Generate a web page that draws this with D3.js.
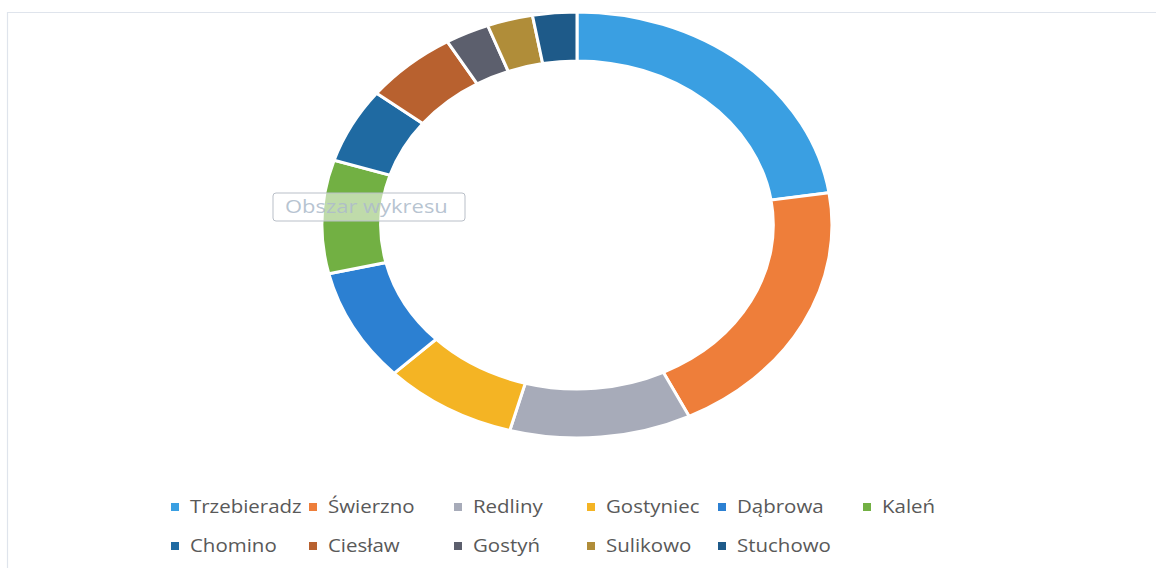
<!DOCTYPE html>
<html>
<head>
<meta charset="utf-8">
<script src="https://cdn.jsdelivr.net/npm/d3@7"></script>
<style>
body{margin:0;background:#fff;}
svg{display:block;}
</style>
</head>
<body>
<div id="chart"></div>
<script>
// villages and their share of the ring
var villages = ["Trzebieradz","Świerzno","Redliny","Gostyniec","Dąbrowa","Kaleń",
                "Chomino","Ciesław","Gostyń","Sulikowo","Stuchowo"]
var shares   = [22.6, 20.2, 11.5, 8.5, 8.6, 8.6, 5.7, 5.9, 2.8, 2.9, 2.8]
var colours  = ["#3a9fe2","#ee7e3a","#a7abb9","#f4b424","#2c80d2","#72b043",
                "#1f6aa2","#b8612f","#5c5f6d","#b08d39","#1e5a89"]

var W = 1156, H = 568
var cx = 577, cy = 225
var rOut = 213, rIn = 164
var stretch = 1.197   // the picture is wider than it is tall

var svg = d3.select('#chart').append('svg')
    .attr('width', W)
    .attr('height', H)

// faint chart area frame
svg.append('path')
    .attr('d', 'M7.5,' + H + 'V12.5H' + W)
    .attr('fill', 'none')
    .attr('stroke', '#dfe4ec')
    .attr('stroke-width', 1.2)

var data = villages.map(function(v, i){
    return {name: v, value: shares[i], colour: colours[i]}
})

var pie = d3.pie()
    .sort(null)
    .value(function(d){return d.value})

var arc = d3.arc()
    .innerRadius(rIn)
    .outerRadius(rOut)

var ring = svg.append('g')
    .attr('transform', 'translate(' + cx + ',' + cy + ') scale(' + stretch + ',1)')

ring.selectAll('path')
    .data(pie(data))
    .enter().append('path')
    .attr('d', arc)
    .attr('fill', function(d){return d.data.colour})
    .attr('stroke', '#fff')
    .attr('stroke-width', 3)
    .style('vector-effect', 'non-scaling-stroke')

// legend, two rows of Excel-ish columns
var colX = [175, 313, 458, 591, 722, 867]
var rowY = [507, 546]
var perRow = 6
var textStretch = 1.17

var leg = svg.append('g').attr('class', 'legend')
data.forEach(function(d, i){
    var row = Math.floor(i / perRow), col = i % perRow
    var g = leg.append('g')
        .attr('transform', 'translate(' + colX[col] + ',' + rowY[row] + ')')
    g.append('rect')
        .attr('x', -4).attr('y', -4)
        .attr('width', 8).attr('height', 8)
        .attr('fill', d.colour)
    g.append('text')
        .attr('x', 15 / textStretch)
        .attr('y', 6)
        .attr('font-family', 'Open Sans, sans-serif')
        .attr('font-size', 17.5)
        .attr('fill', '#595959')
        .attr('transform', 'scale(' + textStretch + ',1)')
        .text(d.name)
})

// the hover tip that was caught in the screenshot
var tip = svg.append('g').attr('transform', 'translate(273,193)')
tip.append('rect')
    .attr('width', 192).attr('height', 28)
    .attr('rx', 3)
    .attr('fill', '#ffffff')
    .attr('fill-opacity', 0.55)
    .attr('stroke', '#b9bfc8')
    .attr('stroke-width', 1)
tip.append('text')
    .attr('x', 12 / 1.22)
    .attr('y', 20)
    .attr('font-family', 'Open Sans, sans-serif')
    .attr('font-size', 18)
    .attr('fill', '#aebccb')
    .attr('fill-opacity', 0.9)
    .attr('transform', 'scale(1.22,1)')
    .text('Obszar wykresu')
</script>
</body>
</html>
